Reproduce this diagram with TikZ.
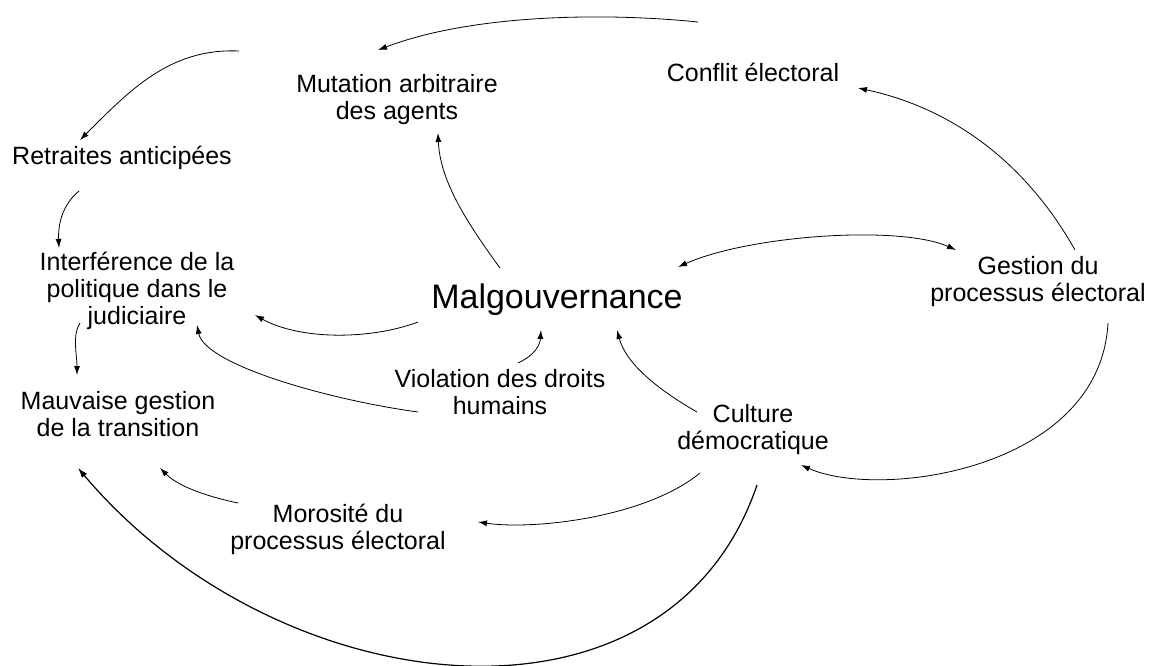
\documentclass[tikz,border=0pt]{standalone}
\usepackage{fontspec}
\setmainfont{Liberation Sans}
\usetikzlibrary{arrows.meta,calc}
\begin{document}
\begin{tikzpicture}[x=1pt,y=-1pt,
  lbl/.style={inner sep=0pt, align=center, font=\fontsize{25}{27}\selectfont},
  big/.style={inner sep=0pt, font=\fontsize{34}{40}\selectfont},
  link/.style={line width=0.8pt, -{Latex[length=9pt,width=6pt]}},
  biglink/.style={line width=1.2pt, -{Latex[length=10pt,width=6.5pt]}},
  dlink/.style={line width=0.8pt, {Latex[length=9pt,width=6pt]}-{Latex[length=9pt,width=6pt]}}
]
\useasboundingbox[fill=white] (0,0) rectangle (1150,665);

\node[lbl] (mut) at (397,100) {Mutation arbitraire\\des agents};
\node[lbl] (con) at (753,72) {Conflit électoral};
\node[lbl] (ret) at (122,158) {Retraites anticipées};
\node[lbl] (inter) at (137,291) {Interférence de la\\politique dans le\\judiciaire};
\node[big] (mal) at (557,300) {Malgouvernance};
\node[lbl] (ges) at (1038,282) {Gestion du\\processus électoral};
\node[lbl] (mau) at (118,414) {Mauvaise gestion\\de la transition};
\node[lbl] (vio) at (500,392) {Violation des droits\\humains};
\node[lbl] (cul) at (753,430) {Culture\\démocratique};
\node[lbl] (mor) at (338,529) {Morosité du\\processus électoral};

% Conflit -> Mutation
\draw[link] ($(con)+(-55,-50)$) .. controls +(-98,-10) and +(92,-35) .. ($(mut)+(-19,-50)$);
% Mutation -> Retraites
\draw[link] ($(mut)+(-158,-49)$) .. controls +(-69,-3) and +(50,-50) .. ($(ret)+(-42,-18)$);
% Retraites -> Interference
\draw[link] ($(ret)+(-43,33)$) .. controls +(-17,14) and +(-1,-23) .. ($(inter)+(-78,-43)$);
% Interference -> Mauvaise
\draw[link] ($(inter)+(-57,32)$) .. controls +(-8,12) and +(0,-20) .. ($(mau)+(-41,-39)$);
% Malgouvernance -> Interference
\draw[link] ($(mal)+(-139,22)$) .. controls +(-48,18) and +(45,25) .. ($(inter)+(118,24)$);
% Violation -> Interference
\draw[link] ($(vio)+(-82,20)$) .. controls +(-88,-12) and +(8,40) .. ($(inter)+(60,34)$);
% Malgouvernance -> Mutation
\draw[link] ($(mal)+(-57,-32)$) .. controls +(-35,-48) and +(2,47) .. ($(mut)+(41,33)$);
% Malgouvernance <-> Gestion
\draw[dlink] ($(mal)+(121,-33)$) .. controls +(72,-32) and +(-56,-25) .. ($(ges)+(-82,-32)$);
% Gestion -> Conflit
\draw[link] ($(ges)+(37,-32)$) .. controls +(-45,-80) and +(102,22) .. ($(con)+(105,16)$);
% Violation -> Malgouvernance
\draw[link] ($(vio)+(18,-29)$) .. controls +(17,-8) and +(-1,15) .. ($(mal)+(-16,30)$);
% Culture -> Malgouvernance
\draw[link] ($(cul)+(-56,-18)$) .. controls +(-47,-27) and +(8,30) .. ($(mal)+(60,30)$);
% Gestion -> Culture
\draw[link] ($(ges)+(70,41)$) .. controls +(-8,147) and +(79,35) .. ($(cul)+(48,35)$);
% Culture -> Morosite
\draw[link] ($(cul)+(-53,43)$) .. controls +(-55,45) and +(55,8) .. ($(mor)+(140,-7)$);
% Morosite -> Mauvaise
\draw[link] ($(mor)+(-100,-26)$) .. controls +(-33,-7) and +(18,18) .. ($(mau)+(42,54)$);
% Culture -> Mauvaise
\draw[biglink] ($(cul)+(4,55)$) .. controls +(-90,265) and +(200,237) .. ($(mau)+(-40,54)$);
\end{tikzpicture}
\end{document}
